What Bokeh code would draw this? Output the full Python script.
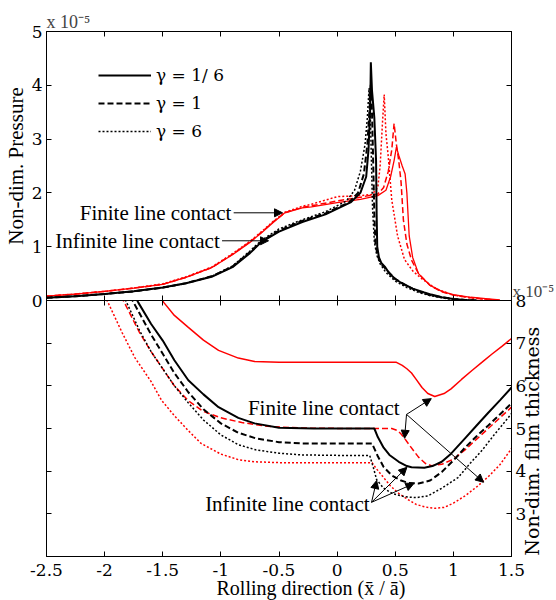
import math
from bokeh.plotting import figure
from bokeh.layouts import column
from bokeh.models import (Range1d, FixedTicker, Legend, LegendItem, Label, Title,
                          Arrow, NormalHead, LinearAxis)
from bokeh.embed import file_html
from bokeh.resources import INLINE

SERIF = "Liberation Serif"      # annotations and titles
AXIS_SERIF = "DejaVu Serif"     # axes and legend

# ---------------- pressure (x 1e-5) ----------------
p_inf_16_x = [-2.5, -2.25, -2.0, -1.75, -1.5, -1.3, -1.08, -0.9, -0.75, -0.65, -0.5, -0.3, -0.1, 0.12, 0.2,
              0.25, 0.27, 0.285, 0.29, 0.30, 0.32, 0.335, 0.34, 0.345, 0.36, 0.38, 0.41, 0.45, 0.5, 0.55,
              0.65, 0.75, 0.81, 0.9, 1.0, 1.1, 1.2]
p_inf_16 = [0.05, 0.08, 0.12, 0.17, 0.24, 0.32, 0.44, 0.62, 0.88, 1.09, 1.28, 1.46, 1.6, 1.83, 2.0,
            2.3, 2.8, 3.6, 4.43, 3.9, 3.4, 2.6, 1.6, 1.0, 0.8, 0.7, 0.63, 0.5, 0.4, 0.33,
            0.22, 0.15, 0.11, 0.06, 0.03, 0.01, 0.0]

p_inf_1_x = [-2.5, -2.25, -2.0, -1.75, -1.5, -1.3, -1.08, -0.9, -0.75, -0.65, -0.5, -0.3, -0.1, 0.1, 0.18,
             0.23, 0.26, 0.28, 0.29, 0.30, 0.31, 0.32, 0.33, 0.35, 0.38, 0.42, 0.5, 0.6, 0.7, 0.8,
             0.9, 1.0, 1.1, 1.2]
p_inf_1 = [0.05, 0.08, 0.12, 0.17, 0.24, 0.32, 0.45, 0.63, 0.9, 1.1, 1.3, 1.48, 1.62, 1.82, 2.0,
           2.35, 2.9, 3.6, 4.03, 3.5, 2.6, 1.6, 1.05, 0.82, 0.68, 0.58, 0.4, 0.27, 0.17, 0.1,
           0.06, 0.03, 0.01, 0.0]

p_inf_6_x = [-2.5, -2.25, -2.0, -1.75, -1.5, -1.3, -1.08, -0.9, -0.75, -0.65, -0.5, -0.3, -0.1, 0.08, 0.15,
             0.2, 0.24, 0.26, 0.275, 0.285, 0.295, 0.305, 0.32, 0.34, 0.37, 0.42, 0.5, 0.6, 0.7, 0.8,
             0.9, 1.0, 1.1, 1.2]
p_inf_6 = [0.05, 0.08, 0.12, 0.17, 0.24, 0.32, 0.45, 0.64, 0.92, 1.12, 1.33, 1.5, 1.65, 1.85, 2.05,
           2.4, 2.9, 3.4, 3.95, 3.5, 2.6, 1.7, 1.1, 0.85, 0.68, 0.52, 0.36, 0.24, 0.15, 0.09,
           0.05, 0.02, 0.01, 0.0]

p_fin_16_x = [-2.5, -2.25, -2.0, -1.75, -1.5, -1.3, -1.08, -0.9, -0.75, -0.65, -0.55, -0.45, -0.3, -0.22, 0.0,
              0.2, 0.35, 0.42, 0.46, 0.49, 0.51, 0.53, 0.56, 0.585, 0.6, 0.62, 0.65, 0.7, 0.8, 0.9,
              1.0, 1.15, 1.3, 1.4]
p_fin_16 = [0.08, 0.12, 0.17, 0.23, 0.30, 0.43, 0.61, 0.85, 1.08, 1.26, 1.45, 1.63, 1.72, 1.74, 1.82,
            1.88, 1.95, 2.05, 2.3, 2.6, 2.85, 2.7, 2.5, 2.35, 2.0, 1.2, 0.8, 0.5, 0.28, 0.17,
            0.11, 0.06, 0.03, 0.01]

p_fin_1_x = [-2.5, -2.25, -2.0, -1.75, -1.5, -1.3, -1.08, -0.9, -0.75, -0.65, -0.55, -0.45, -0.3, -0.22, 0.0,
             0.2, 0.35, 0.4, 0.44, 0.47, 0.49, 0.51, 0.53, 0.55, 0.57, 0.6, 0.64, 0.7, 0.8, 0.9,
             1.0, 1.15, 1.3, 1.4]
p_fin_1 = [0.08, 0.12, 0.17, 0.23, 0.30, 0.43, 0.61, 0.86, 1.09, 1.27, 1.46, 1.63, 1.73, 1.76, 1.85,
           1.92, 1.98, 2.1, 2.4, 2.8, 3.29, 2.9, 2.6, 2.2, 1.5, 1.05, 0.75, 0.5, 0.28, 0.16,
           0.1, 0.05, 0.02, 0.0]

p_fin_6_x = [-2.5, -2.25, -2.0, -1.75, -1.5, -1.3, -1.08, -0.9, -0.75, -0.65, -0.55, -0.45, -0.3, -0.22, 0.0,
             0.2, 0.3, 0.35, 0.37, 0.39, 0.405, 0.42, 0.44, 0.47, 0.52, 0.58, 0.65, 0.73, 0.85, 1.0,
             1.15, 1.3, 1.4]
p_fin_6 = [0.08, 0.12, 0.17, 0.23, 0.31, 0.44, 0.62, 0.87, 1.1, 1.28, 1.47, 1.64, 1.75, 1.79, 1.93,
           1.95, 1.97, 2.1, 2.5, 3.3, 3.83, 3.1, 2.67, 1.87, 1.2, 0.76, 0.55, 0.4, 0.22, 0.1,
           0.05, 0.02, 0.0]

# ---------------- film thickness (x 1e-5) ----------------
h_inf_16_x = [-1.74, -1.71, -1.6, -1.5, -1.4, -1.28, -1.15, -1.02, -0.85, -0.71, -0.5, -0.2, 0.1, 0.32, 0.35,
              0.4, 0.45, 0.53, 0.6, 0.64, 0.75, 0.82, 0.9, 0.98, 1.1, 1.2, 1.3, 1.4, 1.5]
h_inf_16 = [8.1, 7.95, 7.45, 7.06, 6.6, 6.13, 5.8, 5.5, 5.25, 5.12, 5.02, 5.0, 5.0, 5.0, 4.8,
            4.55, 4.38, 4.22, 4.12, 4.09, 4.08, 4.12, 4.22, 4.41, 4.77, 5.07, 5.37, 5.66, 5.96]

h_inf_1_x = [-1.78, -1.75, -1.6, -1.5, -1.4, -1.28, -1.15, -1.0, -0.85, -0.7, -0.5, -0.3, 0.0, 0.3, 0.35,
             0.4, 0.47, 0.55, 0.62, 0.7, 0.8, 0.9, 1.0, 1.1, 1.2, 1.3, 1.4, 1.5]
h_inf_1 = [8.1, 7.95, 7.2, 6.75, 6.3, 5.85, 5.45, 5.12, 4.9, 4.77, 4.68, 4.65, 4.65, 4.65, 4.35,
           4.1, 3.9, 3.78, 3.72, 3.71, 3.78, 3.98, 4.25, 4.55, 4.82, 5.07, 5.33, 5.59]

h_inf_6_x = [-1.84, -1.81, -1.7, -1.6, -1.5, -1.4, -1.28, -1.15, -1.0, -0.85, -0.7, -0.5, -0.3, 0.0, 0.28,
             0.31, 0.34, 0.4, 0.48, 0.58, 0.68, 0.78, 0.9, 1.04, 1.15, 1.25, 1.35, 1.45, 1.5]
h_inf_6 = [8.1, 7.95, 7.3, 6.8, 6.4, 6.0, 5.6, 5.2, 4.85, 4.62, 4.5, 4.42, 4.38, 4.37, 4.37,
           4.1, 3.8, 3.6, 3.47, 3.4, 3.38, 3.42, 3.6, 3.85, 4.2, 4.5, 4.85, 5.18, 5.35]

h_fin_16_x = [-1.53, -1.49, -1.4, -1.28, -1.15, -1.02, -0.85, -0.71, -0.5, -0.2, 0.2, 0.51, 0.56, 0.6, 0.64,
              0.68, 0.73, 0.78, 0.84, 0.92, 0.98, 1.07, 1.16, 1.25, 1.33, 1.42, 1.5]
h_fin_16 = [8.1, 7.95, 7.65, 7.37, 7.07, 6.83, 6.65, 6.57, 6.55, 6.55, 6.55, 6.55, 6.48, 6.4, 6.3,
            6.15, 5.96, 5.82, 5.75, 5.82, 5.93, 6.15, 6.36, 6.56, 6.74, 6.93, 7.11]

h_fin_1_x = [-1.86, -1.83, -1.7, -1.6, -1.5, -1.4, -1.28, -1.15, -1.0, -0.82, -0.6, -0.3, 0.1, 0.47, 0.52,
             0.55, 0.58, 0.63, 0.7, 0.76, 0.81, 0.9, 1.0, 1.1, 1.2, 1.3, 1.4, 1.5]
h_fin_1 = [8.1, 7.95, 7.25, 6.8, 6.4, 6.0, 5.65, 5.4, 5.25, 5.14, 5.05, 5.01, 5.0, 5.0, 4.95,
           4.87, 4.77, 4.58, 4.33, 4.18, 4.13, 4.16, 4.28, 4.5, 4.75, 5.0, 5.25, 5.5]

h_fin_6_x = [-2.0, -1.97, -1.85, -1.74, -1.6, -1.51, -1.4, -1.28, -1.17, -1.0, -0.85, -0.71, -0.5, -0.2, 0.1,
             0.3, 0.34, 0.4, 0.46, 0.53, 0.6, 0.68, 0.76, 0.84, 0.92, 1.0, 1.1, 1.2, 1.3, 1.4, 1.5]
h_fin_6 = [8.1, 7.95, 7.25, 6.66, 6.1, 5.66, 5.3, 4.95, 4.65, 4.4, 4.27, 4.22, 4.2, 4.2, 4.2,
           4.2, 4.05, 3.85, 3.65, 3.48, 3.35, 3.22, 3.16, 3.13, 3.15, 3.25, 3.42, 3.63, 3.87, 4.15, 4.53]

# ---------------- ticks ----------------
x_ticks = [-2.5, -2, -1.5, -1, -0.5, 0, 0.5, 1, 1.5]
x_tick_labels = ["-2.5", "-2", "-1.5", "-1", "-0.5", "0", "0.5", "1", "1.5"]
p_ticks = [0, 1, 2, 3, 4, 5]
h_ticks = [3, 4, 5, 6, 7, 8]
legend_labels = ["\u03b3 = 1/ 6", "\u03b3 = 1", "\u03b3 = 6"]
scale_note = "x 10\u207b\u2075"

BLACK = "#000000"
RED = "#ff0000"


def make_axis(ticks, show_labels=False, overrides=None):
    ax = LinearAxis(ticker=FixedTicker(ticks=ticks))
    ax.major_tick_in = 5
    ax.major_tick_out = 0
    ax.minor_tick_in = 0
    ax.minor_tick_out = 0
    ax.axis_line_color = BLACK
    ax.major_tick_line_color = BLACK
    ax.major_label_text_font = AXIS_SERIF
    if show_labels:
        ax.major_label_text_color = BLACK
        ax.major_label_text_font_size = "17px"
        ax.major_label_standoff = 4
    else:
        ax.major_label_text_color = None
        ax.major_label_text_font_size = "1px"
        ax.major_label_standoff = 0
    if overrides:
        ax.major_label_overrides = overrides
    return ax


def caption(text, size, **kw):
    return Title(text=text, text_font=SERIF, text_font_size=size, text_font_style="normal",
                 text_color=BLACK, **kw)


x_range = Range1d(-2.5, 1.5)

# ---------------- upper panel: pressure ----------------
top = figure(frame_width=465, frame_height=269, x_range=x_range, y_range=Range1d(0, 5),
             output_backend="svg", toolbar_location=None,
             x_axis_location=None, y_axis_location=None,
             min_border_left=45, min_border_right=46, min_border_top=31, min_border_bottom=14)
top.grid.visible = False
top.outline_line_color = BLACK
top.title.text = scale_note
top.title.align = "left"
top.title.text_font = SERIF
top.title.text_font_size = "18px"
top.title.text_font_style = "normal"
top.title.standoff = 0
top.add_layout(make_axis(p_ticks, True), "left")
top.add_layout(caption("Non-dim. Pressure", "21px", align="center", standoff=2), "left")
top.add_layout(make_axis(p_ticks), "right")
top.add_layout(make_axis(x_ticks), "above")
top.add_layout(make_axis(x_ticks), "below")

r_f16 = top.line(p_fin_16_x, p_fin_16, line_color=RED, line_width=1.3)
r_f1 = top.line(p_fin_1_x, p_fin_1, line_color=RED, line_width=1.5, line_dash="6 3")
r_f6 = top.line(p_fin_6_x, p_fin_6, line_color=RED, line_width=1.5, line_dash="2 2")
r_i16 = top.line(p_inf_16_x, p_inf_16, line_color=BLACK, line_width=2)
r_i1 = top.line(p_inf_1_x, p_inf_1, line_color=BLACK, line_width=2, line_dash="6 3")
r_i6 = top.line(p_inf_6_x, p_inf_6, line_color=BLACK, line_width=1.5, line_dash="2 2")

legend = Legend(items=[LegendItem(label=legend_labels[0], renderers=[r_i16]),
                       LegendItem(label=legend_labels[1], renderers=[r_i1]),
                       LegendItem(label=legend_labels[2], renderers=[r_i6])],
                location=(52, 159), glyph_width=53, glyph_height=20, label_height=20,
                spacing=8, padding=0, margin=0, label_standoff=5,
                background_fill_alpha=0, border_line_color=None,
                label_text_font=AXIS_SERIF, label_text_font_size="17px", label_text_color=BLACK)
top.add_layout(legend)

ann_font = dict(text_font=SERIF, text_font_size="21px", text_color=BLACK)
head = dict(size=8, fill_color=BLACK, line_color=BLACK, line_width=1)

top.add_layout(Label(x=-0.91, y=1.63, text="Finite line contact", text_align="right",
                     text_baseline="middle", **ann_font))
top.add_layout(Arrow(end=NormalHead(**head), x_start=-0.89, y_start=1.63, x_end=-0.47, y_end=1.63,
                     line_color=BLACK, line_width=1))
top.add_layout(Label(x=-1.01, y=1.11, text="Infinite line contact", text_align="right",
                     text_baseline="middle", **ann_font))
top.add_layout(Arrow(end=NormalHead(**head), x_start=-0.99, y_start=1.11, x_end=-0.59, y_end=1.11,
                     line_color=BLACK, line_width=1))

# ---------------- lower panel: film thickness ----------------
bot = figure(frame_width=465, frame_height=256, x_range=x_range, y_range=Range1d(2, 8),
             output_backend="svg", toolbar_location=None,
             x_axis_location=None, y_axis_location=None,
             min_border_left=45, min_border_right=46, min_border_top=30, min_border_bottom=44,
             border_fill_color=None, background_fill_color="white")
bot.grid.visible = False
bot.outline_line_color = BLACK
bot.title.text = scale_note
bot.title.align = "left"
bot.title.offset = 466
bot.title.text_font = SERIF
bot.title.text_font_size = "17px"
bot.title.text_font_style = "normal"
bot.title.standoff = 0
bot.add_layout(make_axis(h_ticks), "left")
bot.add_layout(make_axis(h_ticks, True), "right")

# vertical caption of the thickness scale, reading upward from the lower corner
cap_ax = LinearAxis(ticker=FixedTicker(ticks=[2.02]))
cap_ax.axis_line_color = None
cap_ax.major_tick_line_color = None
cap_ax.major_tick_in = 0
cap_ax.major_tick_out = 0
cap_ax.minor_tick_line_color = None
cap_ax.major_label_overrides = {2.02: "Non-dim. film thickness"}
cap_ax.major_label_orientation = math.pi / 2
cap_ax.major_label_standoff = 3
cap_ax.major_label_text_font = AXIS_SERIF
cap_ax.major_label_text_font_size = "19px"
cap_ax.major_label_text_color = BLACK
bot.add_layout(cap_ax, "right")

bot.add_layout(make_axis(x_ticks), "above")
x_ax = make_axis(x_ticks, True, overrides=dict(zip(x_ticks, x_tick_labels)))
x_ax.major_label_standoff = 7
bot.add_layout(x_ax, "below")
bot.add_layout(caption("Rolling direction (x\u0304 / \u0101)", "20px", align="left",
                       offset=170, standoff=-8), "below")

bot.line(h_fin_16_x, h_fin_16, line_color=RED, line_width=1.5)
bot.line(h_fin_1_x, h_fin_1, line_color=RED, line_width=1.5, line_dash="6 3")
bot.line(h_fin_6_x, h_fin_6, line_color=RED, line_width=1.5, line_dash="2 2")
bot.line(h_inf_16_x, h_inf_16, line_color=BLACK, line_width=2)
bot.line(h_inf_1_x, h_inf_1, line_color=BLACK, line_width=2, line_dash="6 3")
bot.line(h_inf_6_x, h_inf_6, line_color=BLACK, line_width=1.5, line_dash="2 2")

bot.add_layout(Label(x=0.537, y=5.47, text="Finite line contact", text_align="right",
                     text_baseline="middle", **ann_font))
for xe, ye in [(0.81, 5.70), (0.58, 4.77), (1.26, 3.74)]:
    bot.add_layout(Arrow(end=NormalHead(**head), x_start=0.597, y_start=5.33, x_end=xe, y_end=ye,
                         line_color=BLACK, line_width=1))
bot.add_layout(Label(x=0.279, y=3.24, text="Infinite line contact", text_align="right",
                     text_baseline="middle", **ann_font))
for xe, ye in [(0.34, 3.78), (0.60, 4.09), (0.66, 3.71)]:
    bot.add_layout(Arrow(end=NormalHead(**head), x_start=0.296, y_start=3.27, x_end=xe, y_end=ye,
                         line_color=BLACK, line_width=1))

# let the lower panel overlap the upper one's spare border strip
bot.styles = {"margin-top": "-44px"}

layout = column(top, bot)
open("out.html", "w").write(file_html(layout, INLINE))
